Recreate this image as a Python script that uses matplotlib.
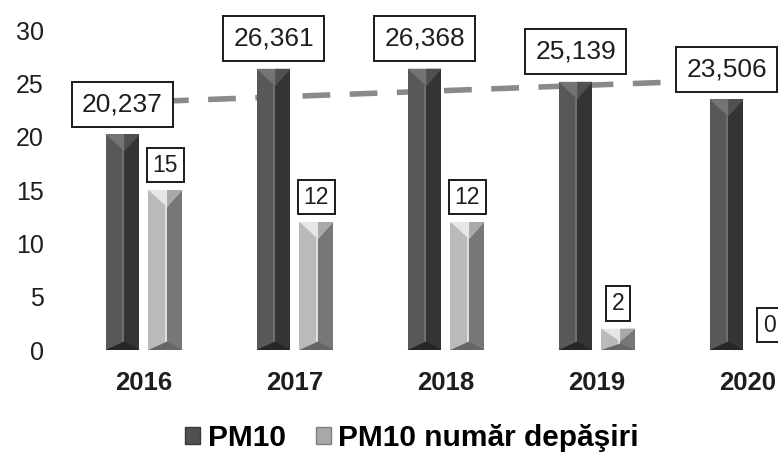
import numpy as np
import matplotlib
matplotlib.use("Agg")
import matplotlib.pyplot as plt
from matplotlib.patches import Polygon, Patch

plt.rcParams['font.family'] = ['Liberation Sans', 'DejaVu Sans']

years = ['2016', '2017', '2018', '2019', '2020']
pm10 = [20.237, 26.361, 26.368, 25.139, 23.506]
pm10_labels = ['20,237', '26,361', '26,368', '25,139', '23,506']
depasiri = [15, 12, 12, 2, 0]
depasiri_labels = ['15', '12', '12', '2', '0']

txt = '#1e1e1e'
W = 0.225      # bar width
OFF = 0.142    # half distance between bar centres
BEV = 1.6      # bevel depth (data units)

# (left face, right face, top facet, bottom facet)
dark = ('#585858', '#343434', '#747474', '#262626')
light = ('#bababa', '#777777', '#e6e6e6', '#666666')


def bevel_bar(ax, xc, h, cols):
    if h <= 0:
        return
    x0, x1 = xc - W / 2, xc + W / 2
    xm = xc + W * 0.05
    d = min(BEV, h * 0.6)
    ax.add_patch(Polygon([(x0, 0), (x1, 0), (x1, h), (x0, h)], closed=True,
                         fc=cols[0], ec='none', zorder=3))
    ax.add_patch(Polygon([(xm, 0), (x1, 0), (x1, h), (xm, h)], closed=True,
                         fc=cols[1], ec='none', zorder=3))
    ax.plot([xm - 0.01, xm - 0.01], [d * 0.5, h - d], color=cols[2], lw=1.2, zorder=3)
    ax.add_patch(Polygon([(x0, h), (x1, h), (xm, h - d)], closed=True,
                         fc=cols[2], ec='none', zorder=3))
    ax.add_patch(Polygon([(xm, h), (x1, h), (xm, h - d)], closed=True,
                         fc=cols[1], ec='none', alpha=0.55, zorder=3))
    ax.add_patch(Polygon([(x0, 0), (x1, 0), (xm, d * 0.5)], closed=True,
                         fc=cols[3], ec='none', zorder=3))


fig = plt.figure(figsize=(7.78, 4.57), dpi=100)
ax = fig.add_axes([55 / 778, 107 / 457, 723 / 778, 320 / 457])

x = np.arange(len(years))
for i in range(len(years)):
    bevel_bar(ax, x[i] - OFF, pm10[i], dark)
    bevel_bar(ax, x[i] + OFF, depasiri[i], light)

# linear trend of PM10
k, b = np.polyfit(x, pm10, 1)
xt = np.array([-0.2, 4.2])
ax.plot(xt, k * xt + b, color='#8a8a8a', lw=4, dashes=(5, 3.5), zorder=2,
        solid_capstyle='butt')

box = dict(boxstyle='square,pad=0.4', fc='white', ec='#1a1a1a', lw=1.4)
box2 = dict(boxstyle='square,pad=0.25', fc='white', ec='#1a1a1a', lw=1.4)
for i in range(len(years)):
    ax.annotate(pm10_labels[i], (x[i] - OFF, pm10[i]), xytext=(0, 30),
                textcoords='offset pixels', ha='center', va='center',
                fontsize=19, color=txt, bbox=box, zorder=6, annotation_clip=False)
    ax.annotate(depasiri_labels[i], (x[i] + OFF, depasiri[i]), xytext=(0, 25),
                textcoords='offset pixels', ha='center', va='center',
                fontsize=16.5, color=txt, bbox=box2, zorder=6, annotation_clip=False)

ax.set_xlim(-0.589, 4.199)
ax.set_ylim(0, 30)
ax.set_yticks([0, 5, 10, 15, 20, 25, 30])
ax.set_xticks(x)
ax.set_xticklabels(years, fontweight='bold', fontsize=18.5)
ax.tick_params(axis='y', labelsize=18, length=0, pad=8, colors=txt)
ax.tick_params(axis='x', length=0, pad=15, colors=txt)
for s in ax.spines.values():
    s.set_visible(False)

handles = [Patch(facecolor='#505050', edgecolor='#3a3a3a', label='PM10'),
           Patch(facecolor='#a8a8a8', edgecolor='#808080', label='PM10 număr depăşiri')]
fig.legend(handles=handles, loc='center', bbox_to_anchor=(412 / 778, 1 - 438 / 457),
           ncol=2, frameon=False, handlelength=0.5, handleheight=0.5,
           handletextpad=0.25, columnspacing=1.0,
           prop={'weight': 'bold', 'size': 21.5})

fig.savefig('out.png', dpi=100)
